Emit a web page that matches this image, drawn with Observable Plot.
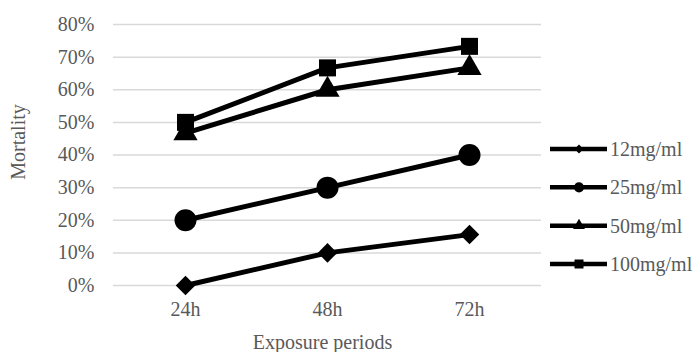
<!DOCTYPE html>
<html>
<head>
<meta charset="utf-8">
<script src="https://cdn.jsdelivr.net/npm/d3@7"></script>
<script src="https://cdn.jsdelivr.net/npm/@observablehq/plot@0.6"></script>
<style>
  html, body { margin: 0; padding: 0; background: #fff; }
  #wrap { position: relative; width: 700px; height: 352px; }
  #wrap svg { position: absolute; left: 0; top: 0; }
</style>
</head>
<body>
<div id="wrap"></div>
<script>
// Exposure periods along the x axis
const periods = ["24h", "48h", "72h"];
// Concentration series, in legend order
const seriesNames = ["12mg/ml", "25mg/ml", "50mg/ml", "100mg/ml"];
// Mortality (fraction) for each series at each exposure period
const mort12 = [0.0, 0.10, 0.156];
const mort25 = [0.20, 0.30, 0.40];
const mort50 = [0.467, 0.60, 0.667];
const mort100 = [0.50, 0.667, 0.733];
// Y axis tick values
const yTicks = [0, 0.1, 0.2, 0.3, 0.4, 0.5, 0.6, 0.7, 0.8];
const xTitle = "Exposure periods";
const yTitle = "Mortality";

const seriesValues = [mort12, mort25, mort50, mort100];
const symbols = ["diamond2", "circle", "triangle", "square"];
const dotR = [8.8, 11, 9, 9.6];
const legendSymbols = [d3.symbolDiamond2, d3.symbolCircle, d3.symbolTriangle, d3.symbolSquare];
const legendSizes = [50, 80, 62, 81];

const rows = seriesNames.flatMap((s, i) =>
  periods.map((p, j) => ({series: s, period: p, value: seriesValues[i][j]}))
);

const font = "'Liberation Serif', 'Times New Roman', serif";
const grey = "#595959";

const marks = [
  Plot.ruleY(yTicks, {stroke: "#d9d9d9", strokeWidth: 1.5}),
  Plot.axisY(yTicks, {
    tickFormat: d3.format(".0%"), tickSize: 0, tickPadding: 19,
    fontSize: 20, fill: grey, label: null
  }),
  Plot.axisX({tickSize: 0, tickPadding: 16, fontSize: 20, fill: grey, label: null}),
  Plot.text([xTitle], {
    frameAnchor: "bottom", lineAnchor: "bottom", dy: 63, dx: -5,
    fontSize: 20, fill: grey
  }),
  Plot.text([yTitle], {
    frameAnchor: "left", textAnchor: "middle", lineAnchor: "bottom",
    rotate: -90, dx: -89, dy: -13,
    fontSize: 20, fill: grey
  })
];

seriesNames.forEach((s, i) => {
  const d = rows.filter(r => r.series === s);
  marks.push(Plot.line(d, {x: "period", y: "value", stroke: "black", strokeWidth: 5}));
  marks.push(Plot.dot(d, {x: "period", y: "value", symbol: () => symbols[i], r: dotR[i], fill: "black", stroke: "none"}));
});

const chart = Plot.plot({
  width: 700,
  height: 352,
  marginLeft: 113,
  marginRight: 159,
  marginTop: 24,
  marginBottom: 67,
  style: {fontFamily: font, background: "transparent"},
  x: {type: "point", domain: periods, padding: 0.5},
  y: {domain: [0, 0.8]},
  symbol: {type: "identity"},
  marks
});
document.getElementById("wrap").appendChild(chart);

// Legend: line with a marker, followed by the series name
const legend = d3.create("svg").attr("width", 700).attr("height", 352)
  .style("font-family", font);
const rowY = d3.scalePoint().domain(seriesNames).range([149, 264]);
const item = legend.selectAll("g").data(seriesNames).join("g")
  .attr("transform", d => `translate(0,${rowY(d)})`);
item.append("line").attr("x1", 550).attr("x2", 607).attr("y1", 0).attr("y2", 0)
  .attr("stroke", "black").attr("stroke-width", 4.5);
item.append("path")
  .attr("transform", "translate(579,0)")
  .attr("d", (d, i) => d3.symbol(legendSymbols[i], legendSizes[i])())
  .attr("fill", "black");
item.append("text").attr("x", 610).attr("y", 7)
  .attr("font-size", 20).attr("fill", grey).text(d => d);
document.getElementById("wrap").appendChild(legend.node());
</script>
</body>
</html>
